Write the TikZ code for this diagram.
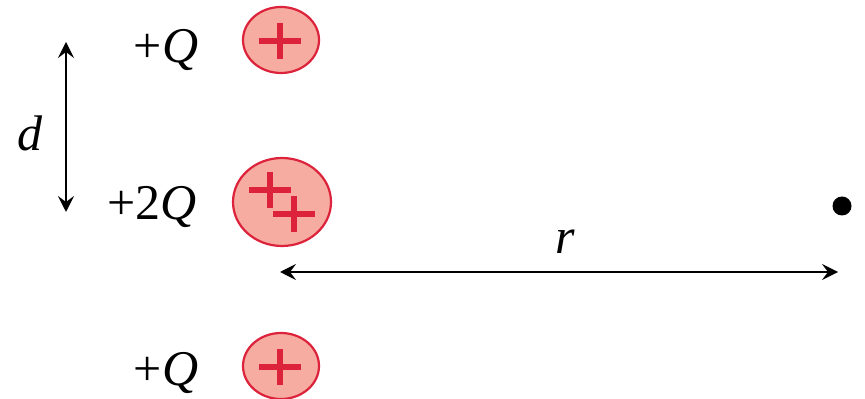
\documentclass[tikz,border=0pt]{standalone}
\usepackage{fontspec}
\setmainfont{Liberation Serif}
\usetikzlibrary{arrows.meta,shapes.geometric}
\definecolor{chargefill}{RGB}{246,172,160}
\definecolor{chargeedge}{RGB}{221,35,60}
\newcommand{\plussign}[2]{\draw[plusline] (#1-21,#2) -- (#1+21,#2) (#1,#2-18) -- (#1,#2+18);}

\begin{document}
\begin{tikzpicture}[x=0.5pt, y=-0.5pt,
    charge/.style={ellipse, draw=chargeedge, fill=chargefill, line width=1.1pt, inner sep=0pt},
    plusline/.style={chargeedge, line width=2.8pt},
    dimline/.style={{Stealth[length=8pt,width=8pt,inset=3pt]}-{Stealth[length=8pt,width=8pt,inset=3pt]}, line width=1pt},
    lbl/.style={inner sep=0pt, font=\fontsize{25}{30}\selectfont}]
\useasboundingbox (0,0) rectangle (865,399);
% charges
\node[charge, minimum width=38pt, minimum height=33pt] (qtop) at (281,40) {};
\node[charge, minimum width=49pt, minimum height=44pt] (qmid) at (282,202) {};
\node[charge, minimum width=38pt, minimum height=33pt] (qbot) at (281,366) {};
\plussign{280}{41}
\plussign{270}{190}
\plussign{294}{214}
\plussign{280}{367}
% labels
\node[lbl] (ltop) at (166,50) {+\textit{Q}};
\node[lbl] (lmid) at (152,207) {+2\textit{Q}};
\node[lbl] (lbot) at (166,373) {+\textit{Q}};
% point
\node[circle, fill, inner sep=0pt, minimum size=9.5pt] (pt) at (842,206) {};
% distances
\coordinate (dtop) at (66,42);
\coordinate (dbot) at (66,212);
\draw[dimline] (dtop) -- (dbot);
\node[lbl] (dlbl) at (30,133) {\textit{d}};
\coordinate (rleft) at (280,272);
\coordinate (rright) at (838,272);
\draw[dimline] (rleft) -- (rright);
\node[lbl] (rlbl) at (565,242) {\textit{r}};
\end{tikzpicture}
\end{document}
